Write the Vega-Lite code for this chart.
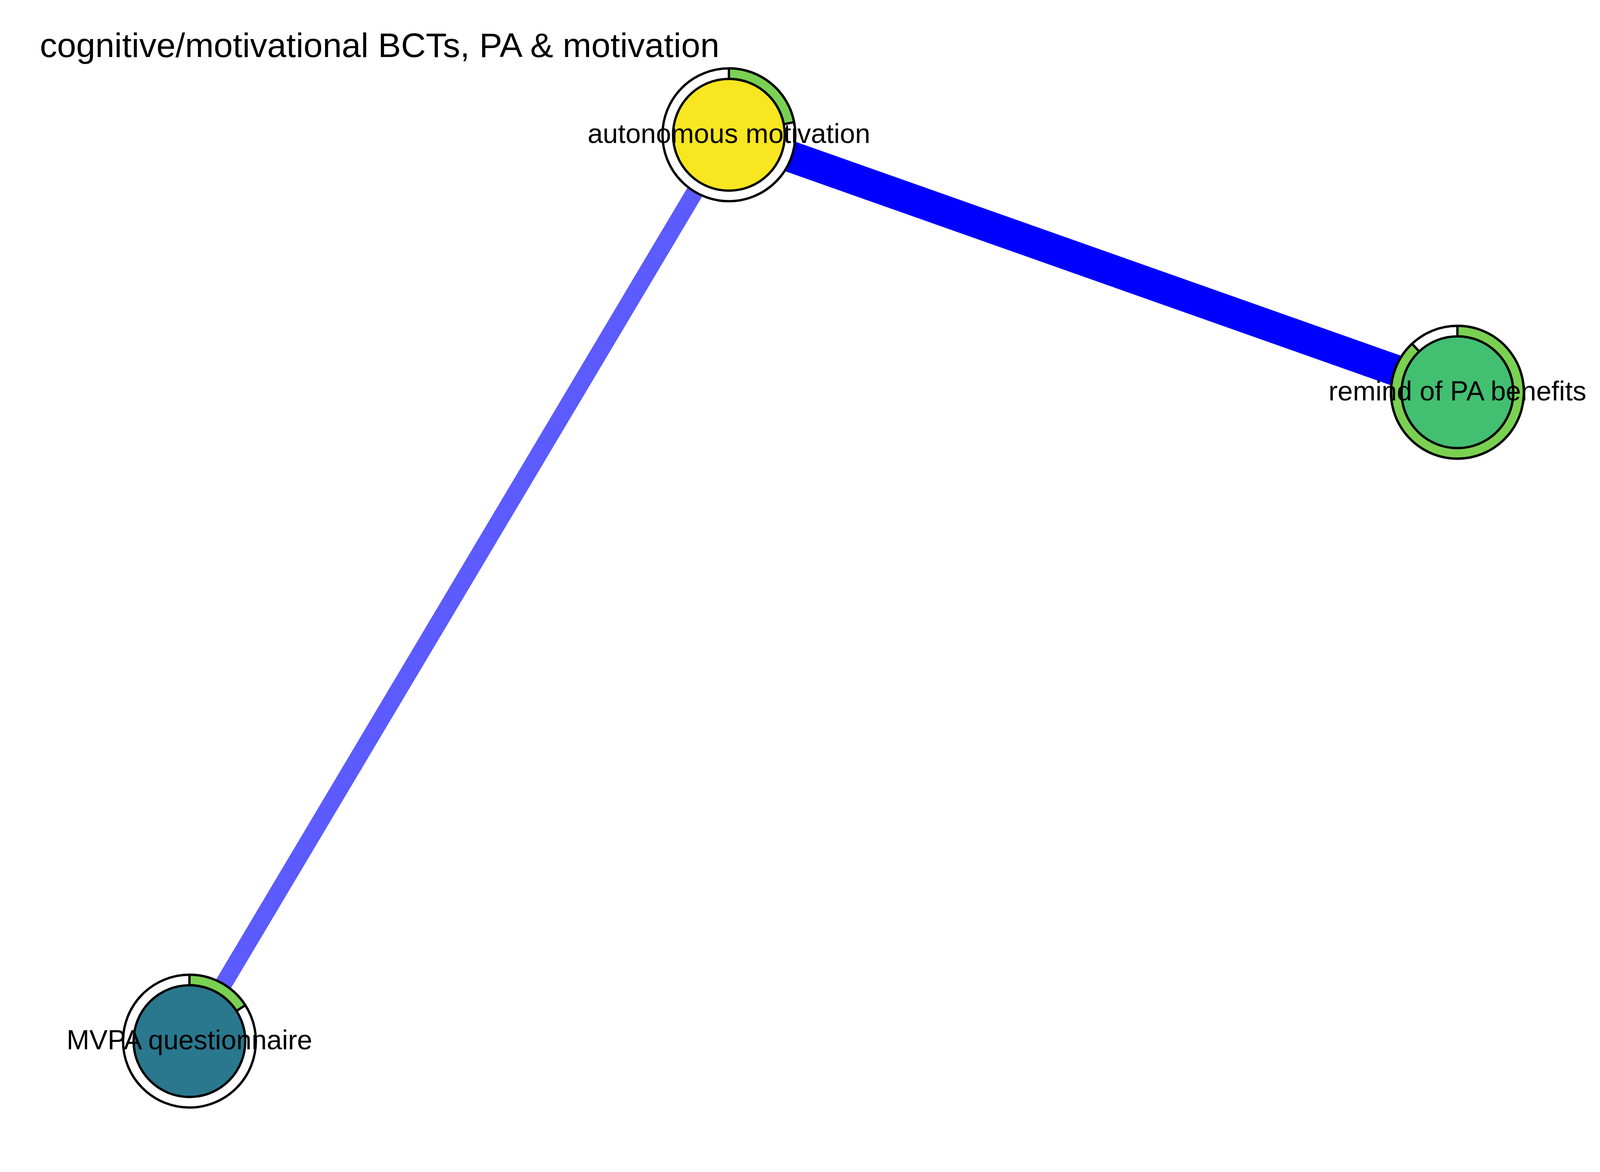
{
"$schema":"https://vega.github.io/schema/vega-lite/v6.json",
"width":4200,"height":3000,"autosize":{"type":"fit","contains":"padding"},"padding":0,
"background":"white",
"config":{"view":{"stroke":null},"font":"Liberation Sans"},
"datasets":{
"nodes":[{"name":"autonomous motivation","x":1866,"y":345,"fill":"#F8E620","t0":0,"t1":1.38},
{"name":"remind of PA benefits","x":3731,"y":1004,"fill":"#43BF71","t0":0,"t1":5.53},
{"name":"MVPA questionnaire","x":485,"y":2665,"fill":"#2A788E","t0":0,"t1":1.0}],
"edges":[{"x":1866,"y":345,"x2":3731,"y2":1004,"w":80,"c":"#0000FF"},
{"x":1866,"y":345,"x2":485,"y2":2665,"w":44,"c":"#5B5BFF"}],
"title":[{"x":102,"y":120,"t":"cognitive/motivational BCTs, PA & motivation"}]
},
"layer":[
{"data":{"name":"edges"},"mark":{"type":"rule"},
"encoding":{"x":{"field":"x","type":"quantitative","scale":{"domain":[0,4200]},"axis":null},
"y":{"field":"y","type":"quantitative","scale":{"domain":[3000,0]},"axis":null},
"x2":{"field":"x2"},"y2":{"field":"y2"},
"strokeWidth":{"field":"w","type":"quantitative","scale":null},
"color":{"field":"c","type":"nominal","scale":null}}},
{"data":{"name":"nodes"},"mark":{"type":"arc","theta":0,"theta2":6.2832,"radius":170,"radius2":0,"fill":"white","stroke":"black","strokeWidth":6},
"encoding":{"x":{"field":"x","type":"quantitative","scale":{"domain":[0,4200]},"axis":null},
"y":{"field":"y","type":"quantitative","scale":{"domain":[3000,0]},"axis":null}}},
{"data":{"name":"nodes"},"mark":{"type":"arc","radius":170,"radius2":143,"fill":"#7AD151","stroke":"black","strokeWidth":6},
"encoding":{"x":{"field":"x","type":"quantitative","scale":{"domain":[0,4200]},"axis":null},
"y":{"field":"y","type":"quantitative","scale":{"domain":[3000,0]},"axis":null},
"theta":{"field":"t0","type":"quantitative","scale":null,"stack":null},
"theta2":{"field":"t1"}}},
{"data":{"name":"nodes"},"mark":{"type":"arc","theta":0,"theta2":6.2832,"radius":143,"radius2":0,"stroke":"black","strokeWidth":6},
"encoding":{"x":{"field":"x","type":"quantitative","scale":{"domain":[0,4200]},"axis":null},
"y":{"field":"y","type":"quantitative","scale":{"domain":[3000,0]},"axis":null},
"fill":{"field":"fill","type":"nominal","scale":null}}},
{"data":{"name":"nodes"},"mark":{"type":"text","fontSize":70,"baseline":"middle","align":"center","color":"black"},
"encoding":{"x":{"field":"x","type":"quantitative","scale":{"domain":[0,4200]},"axis":null},
"y":{"field":"y","type":"quantitative","scale":{"domain":[3000,0]},"axis":null},
"text":{"field":"name"}}},
{"data":{"name":"title"},"mark":{"type":"text","fontSize":88,"baseline":"middle","align":"left","color":"black"},
"encoding":{"x":{"field":"x","type":"quantitative","scale":{"domain":[0,4200]},"axis":null},
"y":{"field":"y","type":"quantitative","scale":{"domain":[3000,0]},"axis":null},
"text":{"field":"t"}}}
]}
